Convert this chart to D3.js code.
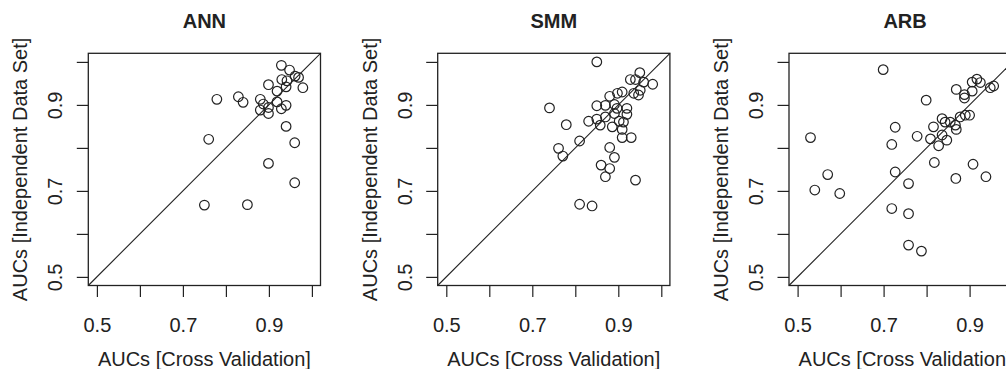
<!DOCTYPE html>
<html>
<head>
<meta charset="utf-8">
<script src="https://cdn.jsdelivr.net/npm/d3@7"></script>
<style>
  html, body { margin: 0; padding: 0; background: #fff; }
  svg { display: block; font-family: "Liberation Sans", Arial, Helvetica, sans-serif; }
</style>
</head>
<body>
<svg id="chart" width="1006" height="369"></svg>
<script>
// panel titles
const titles = ["ANN", "SMM", "ARB"];

// AUCs, cross validation (x) vs independent data set (y)
const annCV  = [0.929, 0.948, 0.961, 0.969, 0.930, 0.942, 0.899, 0.940, 0.979, 0.919,
                0.779, 0.829, 0.840, 0.880, 0.887, 0.919, 0.880, 0.899, 0.899, 0.929,
                0.940, 0.940, 0.760, 0.960, 0.899, 0.960, 0.750, 0.850];
const annInd = [0.992, 0.981, 0.967, 0.964, 0.959, 0.956, 0.947, 0.942, 0.940, 0.932,
                0.913, 0.919, 0.906, 0.913, 0.902, 0.907, 0.888, 0.880, 0.894, 0.891,
                0.899, 0.850, 0.820, 0.812, 0.764, 0.719, 0.667, 0.668];

const smmCV  = [0.850, 0.950, 0.928, 0.940, 0.959, 0.980, 0.951, 0.936, 0.947, 0.909,
                0.898, 0.880, 0.740, 0.850, 0.870, 0.891, 0.897, 0.920, 0.920, 0.891,
                0.870, 0.850, 0.831, 0.858, 0.886, 0.902, 0.912, 0.909, 0.909, 0.930,
                0.779, 0.810, 0.761, 0.771, 0.880, 0.891, 0.860, 0.880, 0.870, 0.940,
                0.810, 0.839];
const smmInd = [1.000, 0.975, 0.959, 0.959, 0.953, 0.948, 0.934, 0.927, 0.923, 0.930,
                0.927, 0.920, 0.893, 0.898, 0.899, 0.901, 0.892, 0.892, 0.878, 0.880,
                0.872, 0.867, 0.862, 0.853, 0.849, 0.862, 0.860, 0.843, 0.824, 0.824,
                0.854, 0.816, 0.799, 0.781, 0.801, 0.778, 0.760, 0.752, 0.733, 0.725,
                0.669, 0.665];

const arbCV  = [0.699, 0.917, 0.906, 0.925, 0.906, 0.869, 0.888, 0.888, 0.948, 0.956,
                0.799, 0.836, 0.843, 0.855, 0.867, 0.878, 0.890, 0.900, 0.869, 0.816,
                0.727, 0.530, 0.778, 0.809, 0.836, 0.847, 0.719, 0.828, 0.818, 0.727,
                0.570, 0.908, 0.938, 0.868, 0.540, 0.598, 0.758, 0.719, 0.758, 0.758,
                0.788];
const arbInd = [0.982, 0.960, 0.953, 0.952, 0.932, 0.936, 0.924, 0.916, 0.940, 0.944,
                0.911, 0.868, 0.860, 0.860, 0.853, 0.872, 0.876, 0.876, 0.843, 0.849,
                0.848, 0.824, 0.827, 0.821, 0.830, 0.818, 0.808, 0.805, 0.766, 0.744,
                0.738, 0.762, 0.733, 0.729, 0.702, 0.694, 0.717, 0.659, 0.647, 0.574,
                0.560];

const tickValues = [0.5, 0.6, 0.7, 0.8, 0.9, 1.0];
const tickLabels = ["0.5", "", "0.7", "", "0.9", ""];

const xTitle = "AUCs [Cross Validation]";
const yTitle = "AUCs [Independent Data Set]";

const svg = d3.select("#chart");
const ink = "#222";

const panelLeft = [88.3, 437.7, 789];
const plotTop = 53.3, size = 232.2;
const domain = [0.48, 1.02];

const series = [[annCV, annInd], [smmCV, smmInd], [arbCV, arbInd]];

series.forEach(([cv, ind], i) => {
    const left = panelLeft[i];
    const x = d3.scaleLinear().domain(domain).range([left, left + size]);
    const y = d3.scaleLinear().domain(domain).range([plotTop + size, plotTop]);
    const g = svg.append("g");

    // title
    g.append("text")
        .attr("x", left + size / 2)
        .attr("y", 28)
        .attr("text-anchor", "middle")
        .attr("font-size", 20)
        .attr("font-weight", "bold")
        .attr("fill", ink)
        .text(titles[i]);

    // x axis
    const xAxis = g.append("g")
        .attr("transform", `translate(0,${plotTop + size})`)
        .call(d3.axisBottom(x).tickValues(tickValues).tickSize(11.5).tickFormat((d, k) => tickLabels[k]));
    xAxis.select(".domain").remove();
    xAxis.selectAll("line").attr("stroke", ink).attr("stroke-width", 1.2);
    xAxis.selectAll("text")
        .attr("font-size", 20)
        .attr("font-family", null)
        .attr("fill", ink)
        .attr("dy", null)
        .attr("y", 46);

    // y axis
    const yAxis = g.append("g")
        .attr("transform", `translate(${left},0)`)
        .call(d3.axisLeft(y).tickValues(tickValues).tickSize(11.5).tickFormat((d, k) => tickLabels[k]));
    yAxis.select(".domain").remove();
    yAxis.selectAll("line").attr("stroke", ink).attr("stroke-width", 1.2);
    yAxis.selectAll("text")
        .attr("font-size", 20)
        .attr("font-family", null)
        .attr("fill", ink)
        .attr("x", null)
        .attr("dy", null)
        .attr("text-anchor", "middle")
        .attr("transform", "translate(-26,0) rotate(-90)");

    // axis titles
    g.append("text")
        .attr("x", left + size / 2)
        .attr("y", 366)
        .attr("text-anchor", "middle")
        .attr("font-size", 20)
        .attr("fill", ink)
        .text(xTitle);
    g.append("text")
        .attr("transform", `translate(${left - 61},${plotTop + size / 2}) rotate(-90)`)
        .attr("text-anchor", "middle")
        .attr("font-size", 20)
        .attr("fill", ink)
        .text(yTitle);

    // box
    g.append("rect")
        .attr("x", left).attr("y", plotTop)
        .attr("width", size).attr("height", size)
        .attr("fill", "none")
        .attr("stroke", ink)
        .attr("stroke-width", 1.3);

    // identity line
    g.append("line")
        .attr("x1", x(domain[0])).attr("y1", y(domain[0]))
        .attr("x2", x(domain[1])).attr("y2", y(domain[1]))
        .attr("stroke", ink)
        .attr("stroke-width", 1.1);

    // points
    g.selectAll("circle")
        .data(cv.map((v, k) => [v, ind[k]]))
        .enter()
        .append("circle")
        .attr("cx", d => x(d[0]))
        .attr("cy", d => y(d[1]))
        .attr("r", 4.8)
        .attr("fill", "none")
        .attr("stroke", ink)
        .attr("stroke-width", 1.2);
});
</script>
</body>
</html>
